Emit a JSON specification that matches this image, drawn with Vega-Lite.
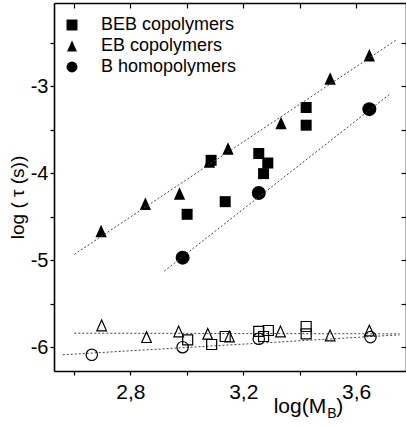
{
  "$schema": "https://vega.github.io/schema/vega-lite/v6.json",
  "autosize": "none",
  "width": 352,
  "height": 368,
  "padding": {"left": 54, "top": 3, "right": 0, "bottom": 55},
  "background": "white",
  "config": {
    "view": {"stroke": null},
    "font": "Liberation Sans",
    "axis": {"grid": false, "domainColor": "black", "domainWidth": 1.6, "tickColor": "black", "tickWidth": 1.2, "labelColor": "black", "titleColor": "black", "labelFont": "Liberation Sans", "titleFont": "Liberation Sans", "labelFontWeight": "normal", "titleFontWeight": "normal"}
  },
  "datasets": {
    "pts": [
      {"series": "EB copolymers", "state": "filled", "logM": 2.696, "logtau": -4.663},
      {"series": "EB copolymers", "state": "filled", "logM": 2.853, "logtau": -4.348},
      {"series": "EB copolymers", "state": "filled", "logM": 2.974, "logtau": -4.233},
      {"series": "EB copolymers", "state": "filled", "logM": 3.080, "logtau": -3.863},
      {"series": "EB copolymers", "state": "filled", "logM": 3.146, "logtau": -3.716},
      {"series": "EB copolymers", "state": "filled", "logM": 3.334, "logtau": -3.422},
      {"series": "EB copolymers", "state": "filled", "logM": 3.508, "logtau": -2.912},
      {"series": "EB copolymers", "state": "filled", "logM": 3.647, "logtau": -2.644},
      {"series": "BEB copolymers", "state": "filled", "logM": 3.001, "logtau": -4.471},
      {"series": "BEB copolymers", "state": "filled", "logM": 3.086, "logtau": -3.851},
      {"series": "BEB copolymers", "state": "filled", "logM": 3.136, "logtau": -4.326},
      {"series": "BEB copolymers", "state": "filled", "logM": 3.255, "logtau": -3.773},
      {"series": "BEB copolymers", "state": "filled", "logM": 3.272, "logtau": -4.004},
      {"series": "BEB copolymers", "state": "filled", "logM": 3.287, "logtau": -3.882},
      {"series": "BEB copolymers", "state": "filled", "logM": 3.423, "logtau": -3.245},
      {"series": "BEB copolymers", "state": "filled", "logM": 3.423, "logtau": -3.448},
      {"series": "B homopolymers", "state": "filled", "logM": 2.985, "logtau": -4.969},
      {"series": "B homopolymers", "state": "filled", "logM": 3.255, "logtau": -4.226},
      {"series": "B homopolymers", "state": "filled", "logM": 3.647, "logtau": -3.264},
      {"series": "EB copolymers", "state": "open", "logM": 2.698, "logtau": -5.747},
      {"series": "EB copolymers", "state": "open", "logM": 2.857, "logtau": -5.881},
      {"series": "EB copolymers", "state": "open", "logM": 2.971, "logtau": -5.816},
      {"series": "EB copolymers", "state": "open", "logM": 3.074, "logtau": -5.843},
      {"series": "EB copolymers", "state": "open", "logM": 3.151, "logtau": -5.874},
      {"series": "EB copolymers", "state": "open", "logM": 3.332, "logtau": -5.816},
      {"series": "EB copolymers", "state": "open", "logM": 3.508, "logtau": -5.862},
      {"series": "EB copolymers", "state": "open", "logM": 3.647, "logtau": -5.805},
      {"series": "BEB copolymers", "state": "open", "logM": 3.003, "logtau": -5.912},
      {"series": "BEB copolymers", "state": "open", "logM": 3.088, "logtau": -5.966},
      {"series": "BEB copolymers", "state": "open", "logM": 3.136, "logtau": -5.874},
      {"series": "BEB copolymers", "state": "open", "logM": 3.255, "logtau": -5.816},
      {"series": "BEB copolymers", "state": "open", "logM": 3.272, "logtau": -5.874},
      {"series": "BEB copolymers", "state": "open", "logM": 3.289, "logtau": -5.805},
      {"series": "BEB copolymers", "state": "open", "logM": 3.423, "logtau": -5.759},
      {"series": "BEB copolymers", "state": "open", "logM": 3.423, "logtau": -5.843},
      {"series": "B homopolymers", "state": "open", "logM": 2.663, "logtau": -6.084},
      {"series": "B homopolymers", "state": "open", "logM": 2.985, "logtau": -5.997},
      {"series": "B homopolymers", "state": "open", "logM": 3.255, "logtau": -5.900},
      {"series": "B homopolymers", "state": "open", "logM": 3.651, "logtau": -5.881}
    ],
    "fits": [
      {"fit": "EB", "logM": 2.601, "logtau": -4.931},
      {"fit": "EB", "logM": 3.742, "logtau": -2.471},
      {"fit": "B", "logM": 2.920, "logtau": -5.123},
      {"fit": "B", "logM": 3.718, "logtau": -3.095},
      {"fit": "open-upper", "logM": 2.601, "logtau": -5.836},
      {"fit": "open-upper", "logM": 3.754, "logtau": -5.843},
      {"fit": "open-lower", "logM": 2.560, "logtau": -6.084},
      {"fit": "open-lower", "logM": 3.754, "logtau": -5.855}
    ],
    "one": [{}]
  },
  "resolve": {"axis": {"x": "independent", "y": "independent"}, "scale": {"size": "independent"}},
  "layer": [
    {
      "data": {"name": "pts"},
      "transform": [{"filter": "datum.state == 'filled'"}],
      "mark": {"type": "point", "filled": true, "color": "black", "opacity": 1},
      "encoding": {
        "x": {"field": "logM", "type": "quantitative", "scale": {"domain": [2.529, 3.777], "nice": false, "zero": false},
          "axis": {"orient": "bottom", "values": [2.6, 2.8, 3.0, 3.2, 3.4, 3.6], "tickSize": 4, "labelFontSize": 21, "labelPadding": 6,
            "labelExpr": "(abs(datum.value-2.8)<0.01 || abs(datum.value-3.2)<0.01 || abs(datum.value-3.6)<0.01) ? replace(format(datum.value, '.1f'), '.', ',') : ''", "title": null}},
        "y": {"field": "logtau", "type": "quantitative", "scale": {"domain": [-6.27, -2.045], "nice": false, "zero": false},
          "axis": {"orient": "left", "values": [-6, -5.5, -5, -4.5, -4, -3.5, -3, -2.5], "tickSize": 4, "labelFontSize": 20, "labelPadding": 2,
            "labelExpr": "abs(datum.value - round(datum.value)) < 0.01 ? '-' + format(abs(datum.value), 'd') : ''",
            "title": "log ( τ (s))", "titleFontSize": 19, "titleX": -37, "titleY": 194, "titleAlign": "center", "titleBaseline": "middle", "titleAngle": -90}},
        "shape": {"field": "series", "type": "nominal",
          "scale": {"domain": ["BEB copolymers", "EB copolymers", "B homopolymers"], "range": ["square", "M0,-1L-0.9,1L0.9,1Z", "circle"]},
          "legend": {"orient": "none", "legendX": 9, "legendY": 13, "title": null, "labelFontSize": 18, "labelFont": "Liberation Sans", "labelColor": "black", "labelOffset": 20, "rowPadding": 3, "padding": 0, "symbolFillColor": "black", "symbolStrokeColor": "black", "symbolSize": 120,
            "encode": {"symbols": {"update": {"size": {"signal": "datum.value == 'EB copolymers' ? 200 : datum.value == 'BEB copolymers' ? 110 : 125"}}}}}},
        "size": {"field": "series", "type": "nominal",
          "scale": {"domain": ["BEB copolymers", "EB copolymers", "B homopolymers"], "range": [121, 195, 110]},
          "legend": null}
      }
    },
    {
      "data": {"name": "fits"},
      "mark": {"type": "line", "color": "#444444", "strokeWidth": 1, "strokeDash": [2, 2]},
      "encoding": {
        "x": {"field": "logM", "type": "quantitative",
          "axis": {"orient": "top", "values": [2.6, 2.8, 3.0, 3.2, 3.4, 3.6], "labels": true, "labelExpr": "''", "labelColor": "black", "domainColor": "black", "tickColor": "black", "tickSize": -5, "title": null, "zindex": 2}},
        "y": {"field": "logtau", "type": "quantitative",
          "axis": {"orient": "right", "values": [-6, -5.5, -5, -4.5, -4, -3.5, -3, -2.5], "labels": true, "labelExpr": "''", "labelColor": "black", "tickColor": "black", "domain": true, "domainColor": "black", "tickSize": -5, "title": null, "zindex": 2}},
        "detail": {"field": "fit", "type": "nominal"}
      }
    },
    {
      "data": {"name": "pts"},
      "transform": [{"filter": "datum.state == 'open'"}],
      "mark": {"type": "point", "filled": false, "color": "black", "strokeWidth": 1.2, "opacity": 1},
      "encoding": {
        "x": {"field": "logM", "type": "quantitative", "axis": null},
        "y": {"field": "logtau", "type": "quantitative", "axis": null},
        "shape": {"field": "series", "type": "nominal"},
        "size": {"field": "series", "type": "nominal",
          "scale": {"domain": ["BEB copolymers", "EB copolymers", "B homopolymers"], "range": [100, 130, 95]},
          "legend": null}
      }
    },
    {
      "data": {"name": "one"},
      "mark": {"type": "text", "text": "log(M", "align": "right", "baseline": "alphabetic", "fontSize": 21, "font": "Liberation Sans", "color": "black"},
      "encoding": {"x": {"datum": 3.494, "type": "quantitative", "axis": null}, "y": {"datum": -6.752, "type": "quantitative", "axis": null}}
    },
    {
      "data": {"name": "one"},
      "mark": {"type": "text", "text": "B", "align": "left", "baseline": "alphabetic", "fontSize": 14, "font": "Liberation Sans", "color": "black", "dx": 1},
      "encoding": {"x": {"datum": 3.494, "type": "quantitative", "axis": null}, "y": {"datum": -6.81, "type": "quantitative", "axis": null}}
    },
    {
      "data": {"name": "one"},
      "mark": {"type": "text", "text": ")", "align": "left", "baseline": "alphabetic", "fontSize": 21, "font": "Liberation Sans", "color": "black", "dx": 10},
      "encoding": {"x": {"datum": 3.494, "type": "quantitative", "axis": null}, "y": {"datum": -6.752, "type": "quantitative", "axis": null}}
    }
  ]
}
